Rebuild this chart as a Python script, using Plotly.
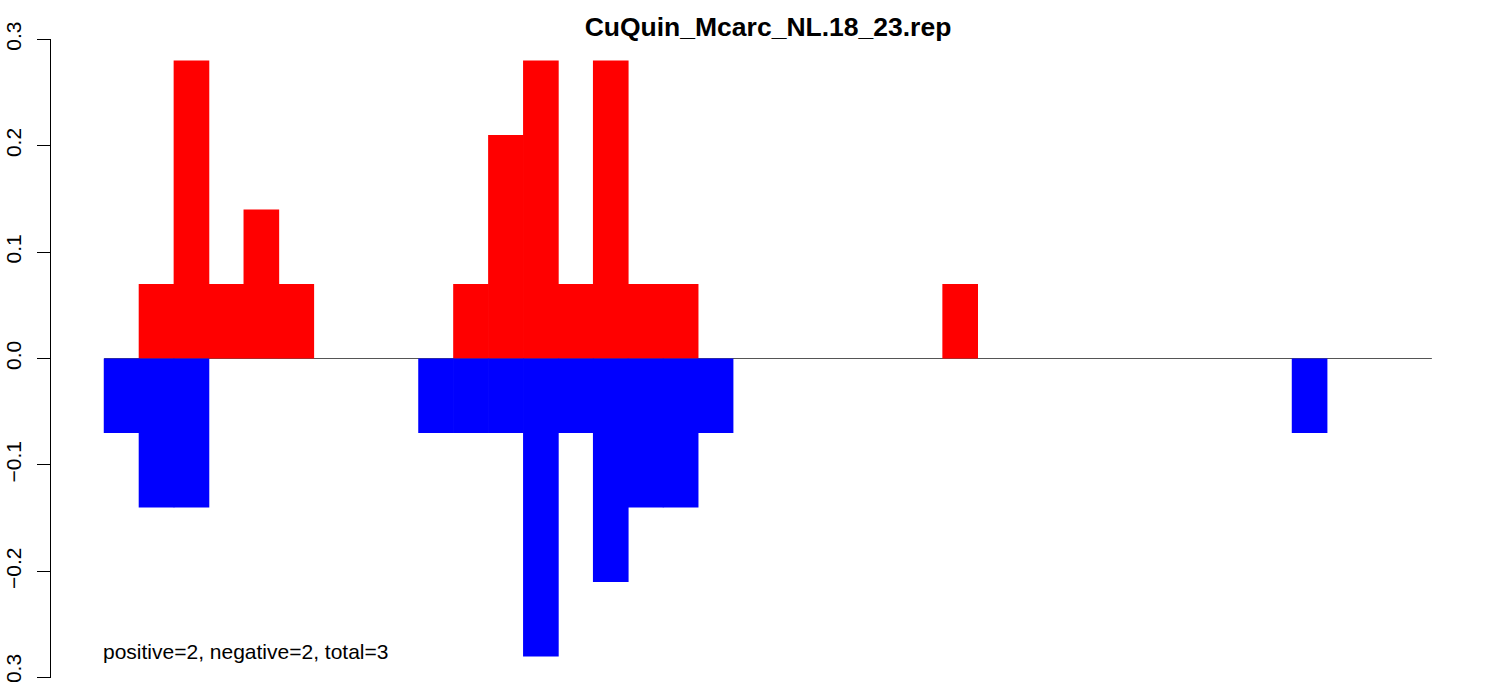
import plotly.graph_objects as go

# 38 bins along the x axis (bin index 0..37)
bins = list(range(38))
positive = [0, 0.07, 0.28, 0.07, 0.14, 0.07, 0, 0, 0, 0,
            0.07, 0.21, 0.28, 0.07, 0.28, 0.07, 0.07, 0, 0, 0,
            0, 0, 0, 0, 0.07, 0, 0, 0, 0, 0,
            0, 0, 0, 0, 0, 0, 0, 0]
negative = [-0.07, -0.14, -0.14, 0, 0, 0, 0, 0, 0, -0.07,
            -0.07, -0.07, -0.28, -0.07, -0.21, -0.14, -0.14, -0.07, 0, 0,
            0, 0, 0, 0, 0, 0, 0, 0, 0, 0,
            0, 0, 0, 0, -0.07, 0, 0, 0]
y_ticks = [-0.3, -0.2, -0.1, 0.0, 0.1, 0.2, 0.3]
title_text = "CuQuin_Mcarc_NL.18_23.rep"
note_text = "positive=2, negative=2, total=3"

FONT = "Liberation Sans, Arial, Helvetica, sans-serif"
centers = [b + 0.5 for b in bins]
n = len(bins)
pos_plot = [v if v != 0 else None for v in positive]
neg_plot = [v if v != 0 else None for v in negative]

fig = go.Figure()
fig.add_trace(go.Bar(x=centers, y=pos_plot, width=1.02,
                     marker=dict(color="#FF0000", line=dict(width=0)),
                     hoverinfo="skip"))
fig.add_trace(go.Bar(x=centers, y=neg_plot, width=1.02,
                     marker=dict(color="#0000FF", line=dict(width=0)),
                     hoverinfo="skip"))

# zero reference line across all bins
fig.add_shape(type="line", x0=bins[0], x1=bins[-1] + 1, y0=0, y1=0, xref="x", yref="y",
              line=dict(color="#555555", width=1), layer="below")

fig.add_annotation(x=bins[0], y=-0.275, xref="x", yref="y", text=note_text, showarrow=False,
                   xanchor="left", yanchor="middle", xshift=-3,
                   font=dict(family=FONT, size=21, color="black"))

pad = 0.04 * n
fig.update_layout(
    width=1504, height=682,
    paper_bgcolor="white", plot_bgcolor="white",
    barmode="overlay", showlegend=False,
    margin=dict(l=51, r=19, t=39, b=4, pad=0, autoexpand=False),
    title=dict(text="<b>" + title_text + "</b>", x=0.5, xref="paper", y=1 - 27 / 682, yref="container",
               xanchor="center", yanchor="middle", font=dict(family=FONT, size=26.5, color="black")),
    xaxis=dict(visible=False, range=[bins[0] - pad, bins[-1] + 1 + pad], showgrid=False, zeroline=False,
               automargin=False),
    yaxis=dict(range=[-0.3002, 0.3002], tickvals=y_ticks, tickformat=".1f", tickangle=-90,
               showline=True, linecolor="black", linewidth=1, ticks="outside", ticklen=13,
               tickcolor="black", tickwidth=1, showgrid=False, zeroline=False, automargin=False,
               tickfont=dict(family=FONT, size=21, color="black"), ticklabelstandoff=8,
               ticklabeloverflow="allow"),
)

fig.write_html("out.html", config={"displayModeBar": False},
               post_script="document.body.style.margin='0';document.body.style.overflow='hidden';")
